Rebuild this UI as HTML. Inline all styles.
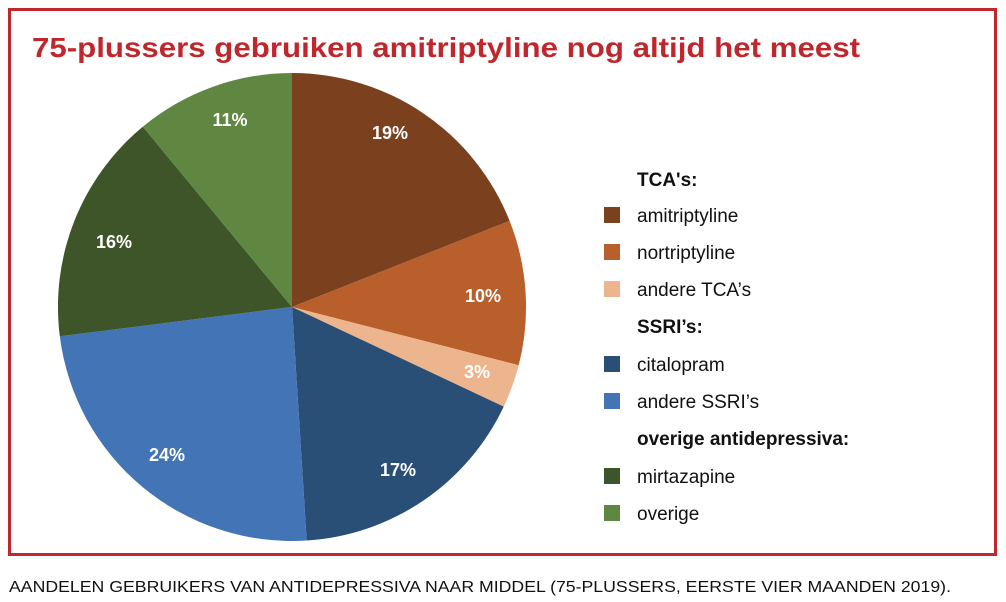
<!DOCTYPE html>
<html><head><meta charset="utf-8"><style>
html,body{margin:0;padding:0;background:#fff;}
body{width:1006px;height:602px;position:relative;font-family:"Liberation Sans",sans-serif;overflow:hidden;}
</style></head><body>
<svg width="1006" height="602" viewBox="0 0 1006 602" xmlns="http://www.w3.org/2000/svg" style="position:absolute;left:0;top:0">
<rect x="9.5" y="9.5" width="986" height="545" fill="none" stroke="#C0272D" stroke-width="3"/>
<text x="32" y="57" font-family="Liberation Sans, sans-serif" font-weight="bold" font-size="28" fill="#C0272D" textLength="828" lengthAdjust="spacingAndGlyphs">75-plussers gebruiken amitriptyline nog altijd het meest</text>
<g stroke="none">
<path d="M292,307 L292,73 A234,234 0 0 1 509.6,220.9 Z" fill="#7B411F"/>
<path d="M292,307 L509.6,220.9 A234,234 0 0 1 518.7,365.2 Z" fill="#B85F2C"/>
<path d="M292,307 L518.7,365.2 A234,234 0 0 1 503.7,406.6 Z" fill="#ECB58D"/>
<path d="M292,307 L503.7,406.6 A234,234 0 0 1 306.7,540.5 Z" fill="#2A4F77"/>
<path d="M292,307 L306.7,540.5 A234,234 0 0 1 59.8,336.3 Z" fill="#4274B6"/>
<path d="M292,307 L59.8,336.3 A234,234 0 0 1 142.8,126.7 Z" fill="#3E5529"/>
<path d="M292,307 L142.8,126.7 A234,234 0 0 1 292,73 Z" fill="#5F8741"/>
</g>
<g font-family="Liberation Sans, sans-serif" font-weight="bold" font-size="18" fill="#fff" text-anchor="middle">
<text x="390" y="139">19%</text>
<text x="483" y="302">10%</text>
<text x="477" y="378">3%</text>
<text x="398" y="476">17%</text>
<text x="167" y="461">24%</text>
<text x="114" y="248">16%</text>
<text x="230" y="126">11%</text>
</g>
<g font-family="Liberation Sans, sans-serif" font-size="19" fill="#111">
<text x="637" y="186" font-weight="bold">TCA's:</text>
<rect x="604" y="207" width="16" height="16" fill="#7B411F"/><text x="637" y="222">amitriptyline</text>
<rect x="604" y="244" width="16" height="16" fill="#B85F2C"/><text x="637" y="259">nortriptyline</text>
<rect x="604" y="281" width="16" height="16" fill="#ECB58D"/><text x="637" y="296">andere TCA’s</text>
<text x="637" y="333" font-weight="bold">SSRI’s:</text>
<rect x="604" y="356" width="16" height="16" fill="#2A4F77"/><text x="637" y="371">citalopram</text>
<rect x="604" y="393" width="16" height="16" fill="#4274B6"/><text x="637" y="408">andere SSRI’s</text>
<text x="637" y="445" font-weight="bold">overige antidepressiva:</text>
<rect x="604" y="468" width="16" height="16" fill="#3E5529"/><text x="637" y="483">mirtazapine</text>
<rect x="604" y="505" width="16" height="16" fill="#5F8741"/><text x="637" y="520">overige</text>
</g>
<text x="9" y="592" font-family="Liberation Sans, sans-serif" font-size="15.5" fill="#111" textLength="942" lengthAdjust="spacingAndGlyphs">AANDELEN GEBRUIKERS VAN ANTIDEPRESSIVA NAAR MIDDEL (75-PLUSSERS, EERSTE VIER MAANDEN 2019).</text>
</svg>
</body></html>
